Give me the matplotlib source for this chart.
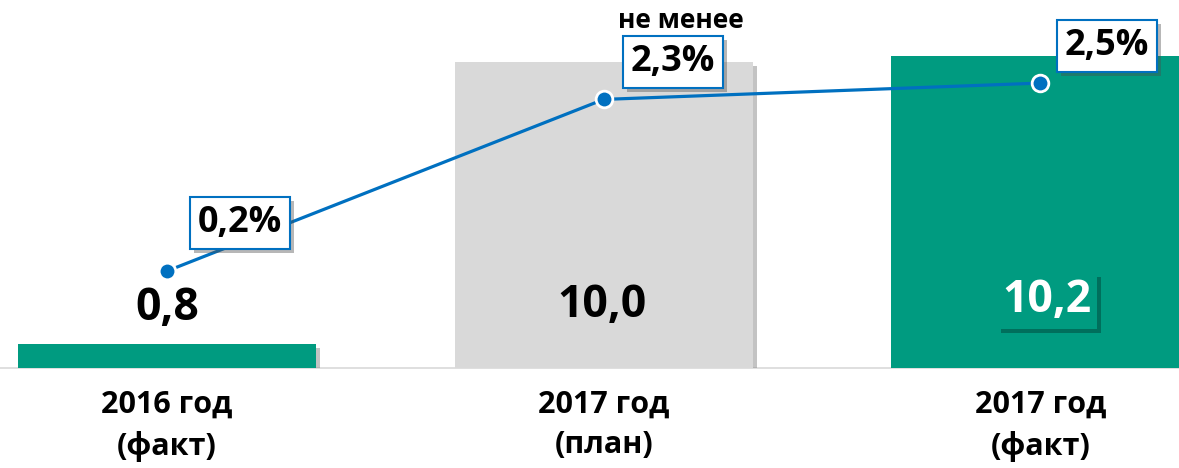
import matplotlib
matplotlib.use("Agg")
import matplotlib.pyplot as plt
import matplotlib.patheffects as pe

categories = ["2016 год\n(факт)", "2017 год\n(план)", "2017 год\n(факт)"]
bar_values = [0.8, 10.0, 10.2]
bar_labels = ["0,8", "10,0", "10,2"]
pct_values = [0.2, 2.3, 2.5]
pct_labels = ["0,2%", "2,3%", "2,5%"]
bar_colors = ["#009B80", "#D9D9D9", "#009B80"]

GREEN = "#009B80"
BLUE = "#0070C0"
FONT = "Open Sans"

fig = plt.figure(figsize=(11.79, 4.68), dpi=100)
ax = fig.add_axes([0, 100 / 468, 1, 368 / 468])
x = list(range(len(categories)))

shadow = [pe.SimplePatchShadow(offset=(3, -3), shadow_rgbFace="#888888", alpha=0.5), pe.Normal()]
bars = ax.bar(x, bar_values, width=0.683, color=bar_colors, zorder=2)
for b in bars:
    b.set_path_effects(shadow)

ax.set_xlim(-0.383, 2.318)
ax.set_ylim(0, 12.03)
ax.axis("off")
ax.axhline(0, color="#D9D9D9", lw=1.2, zorder=1, clip_on=False)

# bar value labels
bar_label_pos = [(0.0, 1.95), (-0.005, 2.05), (0.016, 2.2)]
for i, (lab, (dx, yy)) in enumerate(zip(bar_labels, bar_label_pos)):
    if i == 2:
        ax.text(i + dx, yy, lab, ha="center", va="center", fontsize=32,
                fontweight="bold", family=FONT, color="white", zorder=5,
                bbox=dict(boxstyle="square,pad=0.12", fc=GREEN, ec="none",
                          path_effects=[pe.SimplePatchShadow(offset=(3, -3), alpha=0.4), pe.Normal()]))
    else:
        ax.text(i + dx, yy, lab, ha="center", va="center", fontsize=32,
                fontweight="bold", family=FONT, color="black", zorder=5)

# category labels
for i, c in enumerate(categories):
    ax.text(i, -0.72, c, ha="center", va="top", fontsize=22, fontweight="bold",
            family=FONT, color="black", linespacing=1.45, clip_on=False)

# secondary axis line
ax2 = ax.twinx()
ax2.set_ylim(-0.988, 3.517)
ax2.axis("off")
ax2.plot(x, pct_values, color=BLUE, lw=2.3, marker="o", markersize=12,
         markerfacecolor=BLUE, markeredgecolor="white", markeredgewidth=2, zorder=3)

pct_pos = [(0.167, 0.787), (0.159, 2.758), (0.153, 2.953)]
for i, (lab, (dx, yy)) in enumerate(zip(pct_labels, pct_pos)):
    ax2.text(i + dx, yy, lab, ha="center", va="center", fontsize=26, fontweight="bold",
             family=FONT, color="black", zorder=6,
             bbox=dict(boxstyle="square,pad=0.22", fc="white", ec=BLUE, lw=1.5,
                       path_effects=[pe.SimplePatchShadow(offset=(3, -3), alpha=0.4), pe.Normal()]))

ax2.text(1 + 0.176, 3.27, "не менее", ha="center", va="center", fontsize=19,
         fontweight="bold", family=FONT, color="black", zorder=6)

fig.savefig("out.png", dpi=100)
